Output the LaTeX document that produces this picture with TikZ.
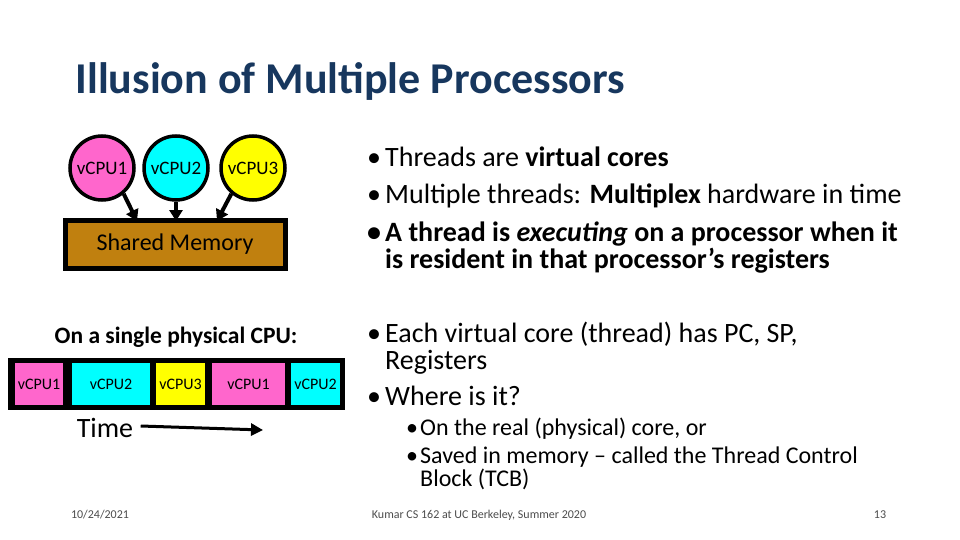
\documentclass[tikz,border=0pt]{standalone}
\usepackage{fontspec}
\setmainfont{Carlito}
\usetikzlibrary{arrows.meta}
\definecolor{cpink}{HTML}{FF66CC}
\definecolor{ccyan}{HTML}{00FFFF}
\definecolor{cyel}{HTML}{FFFF00}
\definecolor{cbrown}{HTML}{C0800F}
\definecolor{ttl}{HTML}{17375E}
\begin{document}
\begin{tikzpicture}[x=1pt,y=-1pt,
 cpu/.style={circle,draw=black,line width=3.5pt,minimum size=64pt,inner sep=0pt,font=\fontsize{19}{20}\selectfont},
 cell/.style={minimum height=42pt,inner sep=0pt,font=\fontsize{16}{18}\selectfont},
 arr/.style={-{Triangle[length=11pt,width=13pt]},line width=4pt},
 ln/.style={anchor=base west,inner sep=0pt,font=\fontsize{28}{30}\selectfont},
 sl/.style={anchor=base west,inner sep=0pt,font=\fontsize{24}{26}\selectfont},
 ft/.style={font=\fontsize{12}{13}\selectfont,text=black!70}]
\useasboundingbox[fill=white] (0,0) rectangle (960,540);
\node[anchor=west,text=ttl,font=\fontsize{44}{48}\selectfont\bfseries] (title) at (72,81) {Illusion of Multiple Processors};
\node[cpu,fill=cpink] (c1) at (102,168) {vCPU1};
\node[cpu,fill=ccyan] (c2) at (176,168) {vCPU2};
\node[cpu,fill=cyel] (c3) at (253,168) {vCPU3};
\node[draw=black,line width=5pt,fill=cbrown,minimum width=220pt,minimum height=48pt,font=\fontsize{24}{26}\selectfont] (mem) at (175,244) {Shared Memory};
\coordinate (m1) at (137,221); \coordinate (m2) at (176,221); \coordinate (m3) at (217,221);
\draw[arr] (c1.-50) -- (m1);
\draw[arr] (c2.south) -- (m2);
\draw[arr] (c3.-130) -- (m3);
\node[font=\fontsize{23.5}{25}\selectfont\bfseries] (single) at (176,337) {On a single physical CPU:};
\node[fill=black,minimum width=337pt,minimum height=52pt,inner sep=0pt] (bar) at (176.5,384) {};
\node[cell,fill=cpink,minimum width=48pt] (b1) at (39,384) {vCPU1};
\node[cell,fill=ccyan,minimum width=78pt] (b2) at (111,384) {vCPU2};
\node[cell,fill=cyel,minimum width=49pt] (b3) at (180.5,384) {vCPU3};
\node[cell,fill=cpink,minimum width=73pt] (b4) at (248.5,384) {vCPU1};
\node[cell,fill=ccyan,minimum width=49pt] (b5) at (315.5,384) {vCPU2};
\node[font=\fontsize{28}{30}\selectfont] (time) at (105,428) {Time};
\coordinate (te) at (263,430);
\draw[-{Triangle[length=12pt,width=12pt]},line width=3pt] (time.east)++(4pt,2pt) -- (te);
\node[ln] (p1) at (367,167) {•};
\node[ln] (l1) at (385,167) {Threads are \textbf{virtual cores}};
\node[ln] (p2) at (367,204) {•};
\node[ln] (l2) at (385,204) {Multiple threads: \textbf{Multiplex} hardware in time};
\node[ln] (p3) at (367,241) {\textbf{•}};
\node[ln] (l3) at (385,241) {\textbf{A thread is \textit{executing} on a processor when it}};
\node[ln] (l4) at (385,268) {\textbf{is resident in that processor's registers}};
\node[ln] (p5) at (367,342) {•};
\node[ln] (l5) at (385,342) {Each virtual core (thread) has PC, SP,};
\node[ln] (l6) at (385,369) {Registers};
\node[ln] (p7) at (367,405) {•};
\node[ln] (l7) at (385,405) {Where is it?};
\node[sl] (q1) at (406,435) {•};
\node[sl] (s1) at (420,435) {On the real (physical) core, or};
\node[sl] (q2) at (406,463) {•};
\node[sl] (s2) at (420,463) {Saved in memory – called the Thread Control};
\node[sl] (s3) at (420,486) {Block (TCB)};
\node[ft] (d) at (100,515) {10/24/2021};
\node[ft] (f) at (479,515) {Kumar CS 162 at UC Berkeley, Summer 2020};
\node[ft] (n) at (880,515) {13};
\end{tikzpicture}
\end{document}
